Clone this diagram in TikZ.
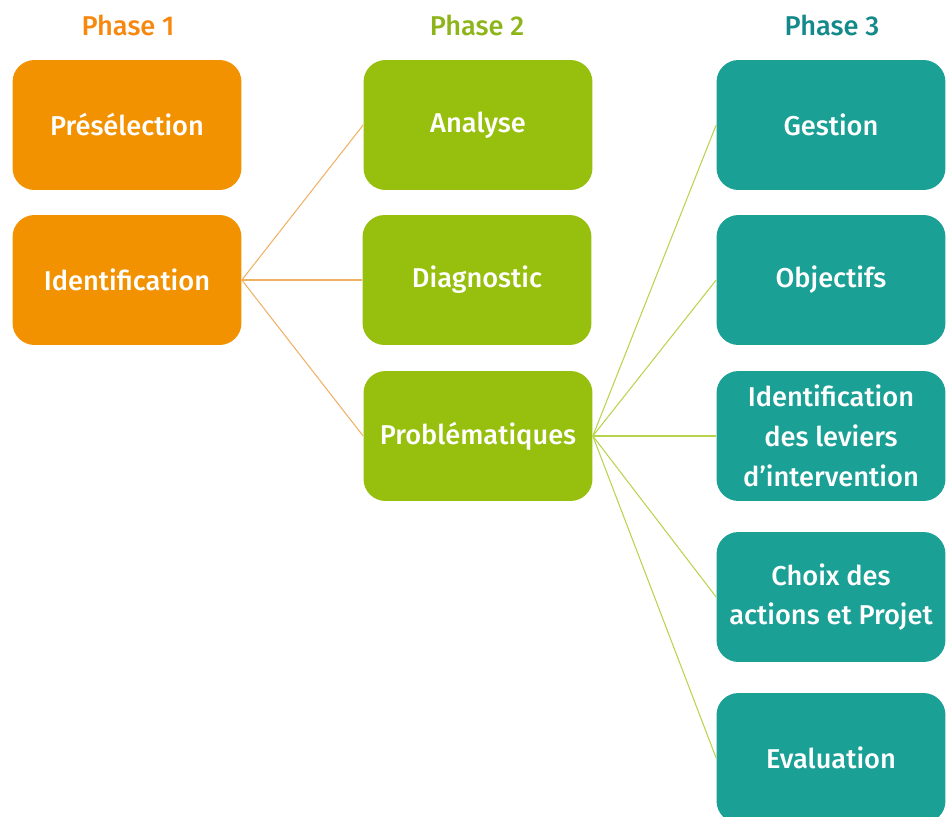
\documentclass[tikz,border=0pt]{standalone}
\usepackage{fontspec}
\setmainfont{Fira Sans}[BoldFont={Fira Sans Medium}]
\usepackage{tikz}

\definecolor{orangeph}{HTML}{F39200}
\definecolor{greenph}{HTML}{97BF0D}
\definecolor{tealph}{HTML}{1BA096}
\definecolor{orangetxt}{HTML}{F7880F}
\definecolor{greentxt}{HTML}{8DB51A}
\definecolor{tealtxt}{HTML}{13898A}
\definecolor{orangeln}{HTML}{EFB264}
\definecolor{greenln}{HTML}{B8D44E}

\tikzset{
  phasebox/.style={rounded corners=0.44cm, minimum width=4.58cm, minimum height=2.6cm,
    inner sep=2pt, align=center, text=white,
    font=\fontsize{15.5}{22.6}\selectfont\bfseries},
  phasetitle/.style={font=\fontsize{15.5}{18}\selectfont\bfseries},
  link/.style={line width=0.6pt}
}

\begin{document}
\begin{tikzpicture}[x=0.02cm,y=-0.02cm]
        \useasboundingbox (0,0) rectangle (951,816);
        \clip (0,0) rectangle (951,816);
        %
        \node [phasetitle, text=orangetxt] (t1) at (128,25) {Phase 1};
        \node [phasetitle, text=greentxt] (t2) at (477,25) {Phase 2};
        \node [phasetitle, text=tealtxt] (t3) at (832,25) {Phase 3};
        %
        \node [phasebox, fill=orangeph] (presel) at (127,125) {Présélection};
        \node [phasebox, fill=orangeph] (ident) at (127,280) {Identification};
        %
        \node [phasebox, fill=greenph] (analyse) at (478,125) {Analyse};
        \node [phasebox, fill=greenph] (diag) at (477,280) {Diagnostic};
        \node [phasebox, fill=greenph] (probl) at (478,436) {Problématiques};
        %
        \node [phasebox, fill=tealph] (gestion) at (831,125) {Gestion};
        \node [phasebox, fill=tealph] (objectifs) at (831,280) {Objectifs};
        \node [phasebox, fill=tealph] (leviers) at (831,436) {Identification\\des leviers\\d’intervention};
        \node [phasebox, fill=tealph] (choix) at (831,597) {Choix des\\actions et Projet};
        \node [phasebox, fill=tealph] (evaluation) at (831,758) {Evaluation};
        %
        \draw [link, orangeln] (ident.east) -- (analyse.west);
        \draw [link, orangeln] (ident.east) -- (diag.west);
        \draw [link, orangeln] (ident.east) -- (probl.west);
        %
        \foreach \n in {gestion,objectifs,leviers,choix,evaluation}
          \draw [link, greenln] (probl.east) -- (\n.west);
      \end{tikzpicture}
\end{document}
